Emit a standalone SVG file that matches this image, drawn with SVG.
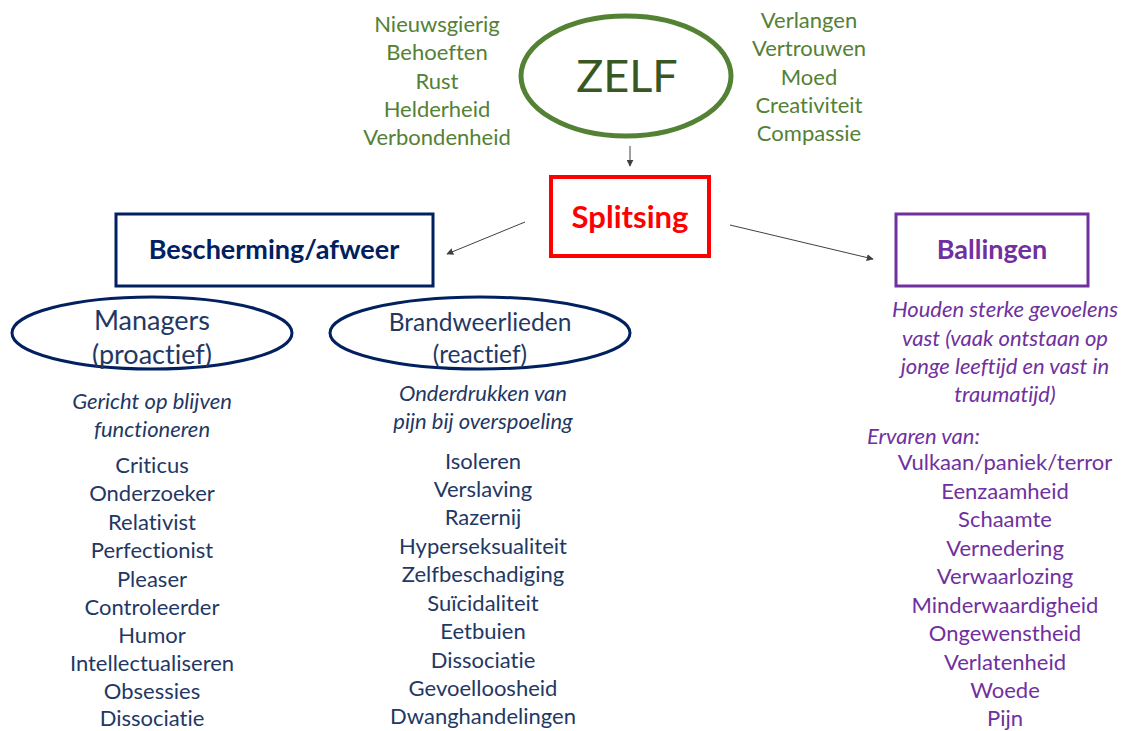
<svg xmlns="http://www.w3.org/2000/svg" width="1131" height="731" viewBox="0 0 1131 731">
  <defs>
    <marker id="arrow" viewBox="0 0 10 10" refX="9" refY="5" markerWidth="7" markerHeight="7" orient="auto" markerUnits="userSpaceOnUse">
      <path d="M0,0 L10,5 L0,10 z" fill="#404040"/>
    </marker>
    <style>
      text { font-family: Lato, "Open Sans", "Liberation Sans", sans-serif; text-anchor: middle; font-variant-ligatures: none; }
      .green { fill: #538135; font-size: 22px; }
      .navy { fill: #1F3864; font-size: 22px; }
      .purple { fill: #7030A0; font-size: 22px; }
      .it { font-style: italic; }
      .title { font-weight: bold; font-size: 27px; }
      .big { font-size: 27px; }
      .mid { font-size: 24.5px; }
      .conn { stroke: #404040; stroke-width: 1; fill: none; marker-end: url(#arrow); }
    </style>
  </defs>
  <rect width="1131" height="731" fill="#ffffff"/>

  <!-- Self with its qualities -->
  <g id="zelf">
    <ellipse cx="626" cy="76" rx="105" ry="60" fill="none" stroke="#548235" stroke-width="5"/>
    <text x="627" y="92" fill="#385723" font-size="45">ZELF</text>
  </g>
  <g id="zelf-left">
    <text class="green" x="437" y="32">Nieuwsgierig</text>
    <text class="green" x="437" y="60">Behoeften</text>
    <text class="green" x="437" y="89">Rust</text>
    <text class="green" x="437" y="117">Helderheid</text>
    <text class="green" x="437" y="145">Verbondenheid</text>
  </g>
  <g id="zelf-right">
    <text class="green" x="809" y="28">Verlangen</text>
    <text class="green" x="809" y="56">Vertrouwen</text>
    <text class="green" x="809" y="85">Moed</text>
    <text class="green" x="809" y="113">Creativiteit</text>
    <text class="green" x="809" y="141">Compassie</text>
  </g>

  <!-- Connectors -->
  <g id="connectors">
    <line class="conn" x1="630" y1="146" x2="630" y2="166"/>
    <line class="conn" x1="525" y1="222" x2="447" y2="254"/>
    <line class="conn" x1="730" y1="225" x2="873" y2="259"/>
  </g>

  <g id="splitsing">
    <rect x="551" y="177" width="158" height="79" fill="none" stroke="#FF0000" stroke-width="4"/>
    <text x="630" y="228" fill="#FF0000" font-size="31" font-weight="bold">Splitsing</text>
  </g>

  <g id="bescherming">
    <rect x="116" y="214" width="317" height="72" fill="none" stroke="#002060" stroke-width="3"/>
    <text class="title" x="274" y="259" fill="#002060">Bescherming/afweer</text>
  </g>

  <g id="ballingen">
    <rect x="896" y="214" width="192" height="72" fill="none" stroke="#7030A0" stroke-width="3"/>
    <text class="title" x="992" y="259" fill="#7030A0">Ballingen</text>
  </g>

  <!-- Managers -->
  <g id="managers">
    <ellipse cx="152" cy="333" rx="140" ry="36" fill="none" stroke="#002060" stroke-width="3"/>
    <text class="navy big" x="152" y="330">Managers</text>
    <text class="navy big" x="152" y="364">(proactief)</text>
  </g>
  <g id="managers-list">
    <text class="navy it" x="152" y="409">Gericht op blijven</text>
    <text class="navy it" x="152" y="437">functioneren</text>
    <text class="navy" x="152" y="473">Criticus</text>
    <text class="navy" x="152" y="501">Onderzoeker</text>
    <text class="navy" x="152" y="530">Relativist</text>
    <text class="navy" x="152" y="558">Perfectionist</text>
    <text class="navy" x="152" y="587">Pleaser</text>
    <text class="navy" x="152" y="615">Controleerder</text>
    <text class="navy" x="152" y="643">Humor</text>
    <text class="navy" x="152" y="671">Intellectualiseren</text>
    <text class="navy" x="152" y="699">Obsessies</text>
    <text class="navy" x="152" y="726">Dissociatie</text>
  </g>

  <!-- Brandweerlieden -->
  <g id="brandweerlieden">
    <ellipse cx="480" cy="333" rx="150" ry="36" fill="none" stroke="#002060" stroke-width="3"/>
    <text class="navy mid" x="480" y="331">Brandweerlieden</text>
    <text class="navy mid" x="480" y="363">(reactief)</text>
  </g>
  <g id="brandweerlieden-list">
    <text class="navy it" x="483" y="401">Onderdrukken van</text>
    <text class="navy it" x="483" y="429">pijn bij overspoeling</text>
    <text class="navy" x="483" y="469">Isoleren</text>
    <text class="navy" x="483" y="497">Verslaving</text>
    <text class="navy" x="483" y="525">Razernij</text>
    <text class="navy" x="483" y="554">Hyperseksualiteit</text>
    <text class="navy" x="483" y="582">Zelfbeschadiging</text>
    <text class="navy" x="483" y="611">Suïcidaliteit</text>
    <text class="navy" x="483" y="639">Eetbuien</text>
    <text class="navy" x="483" y="668">Dissociatie</text>
    <text class="navy" x="483" y="696">Gevoelloosheid</text>
    <text class="navy" x="483" y="724">Dwanghandelingen</text>
  </g>

  <!-- Exiles -->
  <g id="ballingen-list">
    <text class="purple it" x="1005" y="317">Houden sterke gevoelens</text>
    <text class="purple it" x="1005" y="346">vast (vaak ontstaan op</text>
    <text class="purple it" x="1005" y="374">jonge leeftijd en vast in</text>
    <text class="purple it" x="1005" y="402">traumatijd)</text>
    <text class="purple it" x="867" y="444" style="text-anchor:start">Ervaren van:</text>
    <text class="purple" x="1005" y="470">Vulkaan/paniek/terror</text>
    <text class="purple" x="1005" y="499">Eenzaamheid</text>
    <text class="purple" x="1005" y="527">Schaamte</text>
    <text class="purple" x="1005" y="556">Vernedering</text>
    <text class="purple" x="1005" y="584">Verwaarlozing</text>
    <text class="purple" x="1005" y="613">Minderwaardigheid</text>
    <text class="purple" x="1005" y="641">Ongewenstheid</text>
    <text class="purple" x="1005" y="670">Verlatenheid</text>
    <text class="purple" x="1005" y="698">Woede</text>
    <text class="purple" x="1005" y="726">Pijn</text>
  </g>
</svg>
